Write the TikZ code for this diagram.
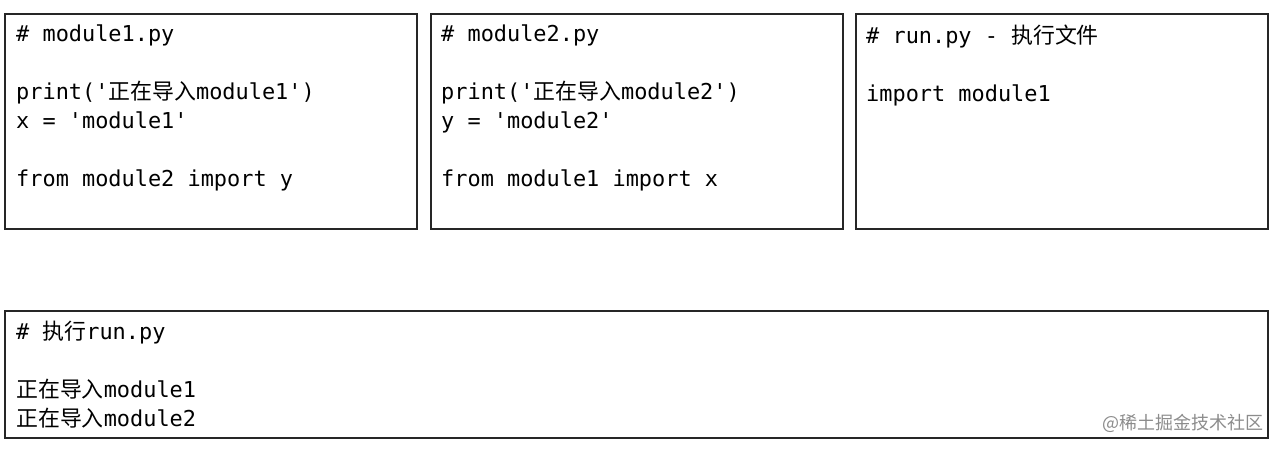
\documentclass[tikz,border=0pt]{standalone}
\usepackage{fontspec}
\newfontfamily\mono{DejaVu Sans Mono}
\newfontfamily\cjk{Noto Sans CJK SC}
\newcommand{\zh}[1]{{\cjk #1}}
\begin{document}
\begin{tikzpicture}[x=1pt,y=-1pt,
  codebox/.style={draw=black!85,line width=2.8pt},
  code/.style={anchor=north west,inner sep=0pt,align=left,font=\mono\fontsize{21.9}{29}\selectfont}]
\useasboundingbox (0,0) rectangle (1279,449);
\draw[codebox] (5,14) rectangle (417,229);
\draw[codebox] (431,14) rectangle (843,229);
\draw[codebox] (856,14) rectangle (1268,229);
\draw[codebox] (5,311) rectangle (1268,438);
\node[code] (t1) at (16,25) {\# module1.py\\\mbox{}\\print('\zh{正在导入}module1')\\x = 'module1'\\\mbox{}\\from module2 import y};
\node[code] (t2) at (441,25) {\# module2.py\\\mbox{}\\print('\zh{正在导入}module2')\\y = 'module2'\\\mbox{}\\from module1 import x};
\node[code] (t3) at (866,25) {\# run.py - \zh{执行文件}\\\mbox{}\\import module1};
\node[code] (t4) at (16,321) {\# \zh{执行}run.py\\\mbox{}\\\zh{正在导入}module1\\\zh{正在导入}module2};
\node[anchor=east,inner sep=0pt,text=black!45,font=\cjk\fontsize{18}{20}\selectfont] (wm) at (1264,423) {@稀土掘金技术社区};
\end{tikzpicture}
\end{document}
